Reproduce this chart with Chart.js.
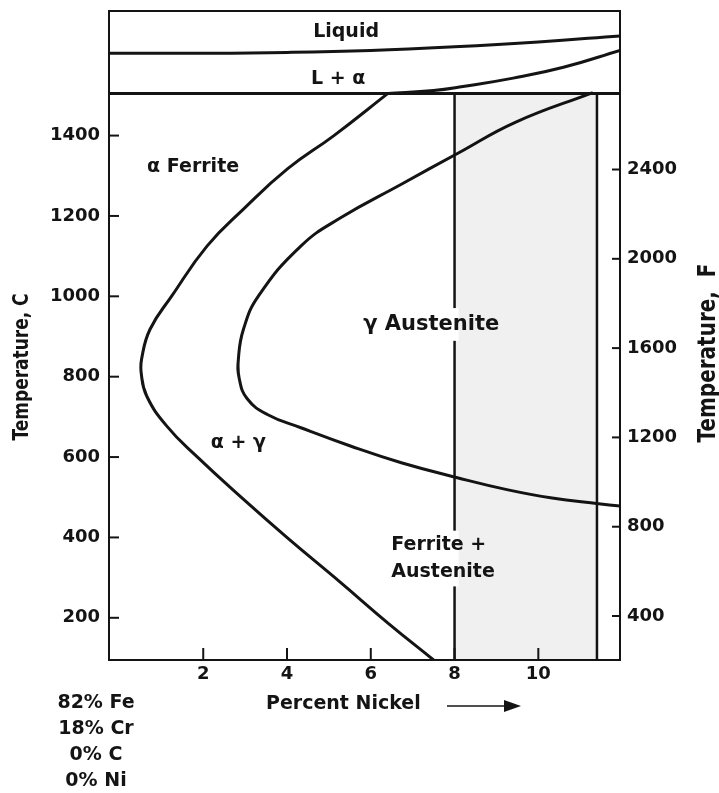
<!DOCTYPE html>
<html>
<head>
<meta charset="utf-8">
<script src="https://cdn.jsdelivr.net/npm/chart.js@4.4.0/dist/chart.umd.min.js"></script>
<style>
  html, body { margin: 0; padding: 0; background: #fff; }
  #wrap { width: 719px; height: 793px; }
</style>
</head>
<body>
<div id="wrap"><canvas id="phaseChart" width="719" height="793"></canvas></div>
<script>
// Fe - 18% Cr - Ni section: temperature (C) against percent nickel
const outerNi = [6.41, 5.12, 4.01, 2.96, 2.09, 1.25, 0.73, 0.53, 0.52, 0.65, 1.13, 1.85, 2.97, 4.01, 5.29, 6.41, 7.5];
const outerC  = [1505, 1400, 1317, 1217, 1125, 1001, 918, 845, 808, 752, 677, 601, 494, 399, 287, 187, 95];

const innerNi = [11.3, 9.45, 8.08, 6.73, 5.29, 4.33, 3.32, 2.96, 2.84, 2.86, 3.05, 3.53, 4.33, 5.53, 6.73, 8.09, 9.25, 10.33, 11.44, 11.95];
const innerC  = [1507, 1433, 1356, 1279, 1196, 1125, 1001, 918, 845, 795, 745, 706, 673, 627, 586, 548, 519, 498, 484, 478];

const liquidusNi = [-0.25, 2, 4, 6, 8, 10, 11.95];
const liquidusC  = [1605, 1605, 1607, 1612, 1621, 1633, 1648];

const solidusNi = [6.4, 7.5, 8.2, 9.4, 10.6, 11.95];
const solidusC  = [1505, 1512, 1522, 1543, 1570, 1612];

const deltaLineNi = [-0.25, 11.95];
const deltaLineC  = [1505, 1505];

const sectionNi = [8, 11.4];       // shaded composition band
const sectionTopC = 1505;

const niTicks = [2, 4, 6, 8, 10];
const celsiusTicks = [200, 400, 600, 800, 1000, 1200, 1400];
const fahrenheitTicks = [400, 800, 1200, 1600, 2000, 2400];

const niRange = [-0.25, 11.95];
const celsiusRange = [95, 1710];

const composition = ['82% Fe', '18% Cr', '0% C', '0% Ni'];

const regionLabels = [
  { text: 'Liquid', ni: 5.41, c: 1658, align: 'center', size: 19 },
  { text: 'L + α', ni: 5.22, c: 1541, align: 'center', size: 19 },
  { text: 'α Ferrite', ni: 0.66, c: 1322, align: 'left', size: 19 },
  { text: 'γ Austenite', ni: 5.82, c: 930, align: 'left', size: 21, knockout: true },
  { text: 'α + γ', ni: 2.84, c: 634, align: 'center', size: 19 },
  { text: 'Ferrite +', ni: 6.49, c: 380, align: 'left', size: 19, knockout: true },
  { text: 'Austenite', ni: 6.49, c: 315, align: 'left', size: 19, knockout: true }
];

const ink = '#141414';
const fontFamily = '"DejaVu Sans", sans-serif';
const toF = c => c * 1.8 + 32;
const pts = (xs, ys) => xs.map((v, i) => ({ x: v, y: ys[i] }));

const curve = (data, extra) => Object.assign({
  data: data,
  showLine: true,
  borderColor: ink,
  borderWidth: 3,
  pointRadius: 0,
  tension: 0.45,
  fill: false
}, extra || {});

function line(ctx, x1, y1, x2, y2) {
  ctx.beginPath();
  ctx.moveTo(x1, y1);
  ctx.lineTo(x2, y2);
  ctx.stroke();
}

function sideTitle(ctx, text, cx, cy, size) {
  ctx.save();
  ctx.translate(cx, cy);
  ctx.rotate(-Math.PI / 2);
  ctx.scale(1, 1.25);
  ctx.font = 'bold ' + size + 'px ' + fontFamily;
  ctx.textAlign = 'center';
  ctx.textBaseline = 'middle';
  ctx.fillText(text, 0, 0);
  ctx.restore();
}

const overlay = {
  id: 'overlay',
  afterDraw(chart) {
    const { ctx, chartArea: a } = chart;
    const { x, y, y2 } = chart.scales;
    ctx.save();
    ctx.strokeStyle = ink;
    ctx.fillStyle = ink;
    ctx.lineWidth = 2;

    // tick marks point into the plot
    celsiusTicks.forEach(v => { const p = y.getPixelForValue(v); line(ctx, a.left, p, a.left + 10, p); });
    fahrenheitTicks.forEach(v => { const p = y2.getPixelForValue(v); line(ctx, a.right - 8, p, a.right, p); });
    niTicks.forEach(v => { const p = x.getPixelForValue(v); line(ctx, p, a.bottom, p, a.bottom - 12); });

    // region names; where one crosses the 8% line, the line is broken behind it
    const cut = x.getPixelForValue(sectionNi[0]);
    ctx.textBaseline = 'middle';
    regionLabels.forEach(l => {
      const px = x.getPixelForValue(l.ni);
      const py = y.getPixelForValue(l.c);
      ctx.font = 'bold ' + l.size + 'px ' + fontFamily;
      ctx.textAlign = l.align;
      if (l.knockout) {
        ctx.fillStyle = '#fff';
        ctx.fillRect(cut - 4, py - l.size * 0.78, 8, l.size * 1.56);
        ctx.fillStyle = ink;
      }
      ctx.fillText(l.text, px, py);
    });

    // axis titles
    sideTitle(ctx, 'Temperature, C', 22, 367, 17);
    sideTitle(ctx, 'Temperature,  F', 708, 353, 20);

    ctx.font = 'bold 19px ' + fontFamily;
    ctx.textAlign = 'left';
    ctx.fillText('Percent Nickel', 266, 704);
    ctx.lineWidth = 1.5;
    line(ctx, 447, 706, 508, 706);
    ctx.beginPath();
    ctx.moveTo(521, 706);
    ctx.lineTo(504, 700);
    ctx.lineTo(504, 712);
    ctx.closePath();
    ctx.fill();

    // base alloy
    ctx.textAlign = 'center';
    composition.forEach((t, i) => ctx.fillText(t, 96, 703 + i * 26));
    ctx.restore();
  }
};

const tickFont = { family: fontFamily, size: 18, weight: 'bold' };
const plain = v => String(v);

new Chart(document.getElementById('phaseChart'), {
  type: 'scatter',
  data: {
    datasets: [
      curve(pts(sectionNi, sectionNi.map(() => sectionTopC)), {
        borderWidth: 0, tension: 0, fill: 'start', backgroundColor: 'rgba(0,0,0,0.06)'
      }),
      curve(pts([sectionNi[0], sectionNi[0]], [celsiusRange[0], sectionTopC]), { borderWidth: 2.5, tension: 0 }),
      curve(pts([sectionNi[1], sectionNi[1]], [celsiusRange[0], sectionTopC]), { borderWidth: 2.5, tension: 0 }),
      curve(pts(liquidusNi, liquidusC)),
      curve(pts(solidusNi, solidusC)),
      curve(pts(deltaLineNi, deltaLineC), { tension: 0 }),
      curve(pts(outerNi, outerC)),
      curve(pts(innerNi, innerC))
    ]
  },
  options: {
    responsive: false,
    animation: false,
    devicePixelRatio: 1,
    layout: { padding: { top: 11, left: 0, right: 0, bottom: 0 } },
    plugins: { legend: { display: false }, tooltip: { enabled: false } },
    scales: {
      x: {
        type: 'linear', position: 'bottom',
        min: niRange[0], max: niRange[1],
        afterBuildTicks: s => { s.ticks = niTicks.map(v => ({ value: v })); },
        afterFit: s => { s.height = 133; s.paddingLeft = 0; s.paddingRight = 0; },
        grid: { display: false, drawTicks: false },
        border: { display: true, color: ink, width: 2 },
        ticks: { color: ink, padding: 4, font: tickFont, callback: plain }
      },
      xTop: {
        type: 'linear', position: 'top',
        min: niRange[0], max: niRange[1],
        afterFit: s => { s.height = 0; s.paddingLeft = 0; s.paddingRight = 0; },
        grid: { display: false, drawTicks: false },
        border: { display: true, color: ink, width: 2 },
        ticks: { display: false }
      },
      y: {
        type: 'linear', position: 'left',
        min: celsiusRange[0], max: celsiusRange[1],
        afterBuildTicks: s => { s.ticks = celsiusTicks.map(v => ({ value: v })); },
        afterFit: s => { s.width = 109; s.paddingTop = 0; s.paddingBottom = 0; },
        grid: { display: false, drawTicks: false },
        border: { display: true, color: ink, width: 2 },
        ticks: { color: ink, padding: 9, font: tickFont, callback: plain }
      },
      y2: {
        type: 'linear', position: 'right',
        min: toF(celsiusRange[0]), max: toF(celsiusRange[1]),
        afterBuildTicks: s => { s.ticks = fahrenheitTicks.map(v => ({ value: v })); },
        afterFit: s => { s.width = 99; s.paddingTop = 0; s.paddingBottom = 0; },
        grid: { display: false, drawTicks: false },
        border: { display: true, color: ink, width: 2 },
        ticks: { color: ink, padding: 7, font: tickFont, callback: plain }
      }
    }
  },
  plugins: [overlay]
});
</script>
</body>
</html>
